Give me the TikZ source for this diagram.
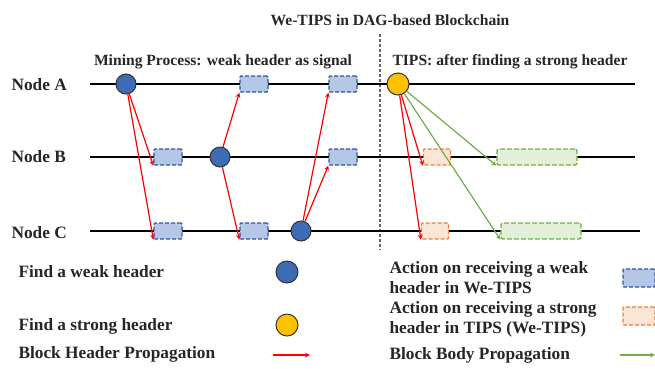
\documentclass[tikz,border=0pt]{standalone}
\usepackage{fontspec}
\setmainfont{Liberation Serif}
\usetikzlibrary{arrows.meta}
\definecolor{weakfill}{HTML}{3D6BB5}
\definecolor{weakbox}{HTML}{B4C7E7}
\definecolor{weakline}{HTML}{2F5597}
\definecolor{strongfill}{HTML}{FFC000}
\definecolor{strongbox}{HTML}{FBE5D6}
\definecolor{strongline}{HTML}{ED7D31}
\definecolor{bodybox}{HTML}{E2F0D9}
\definecolor{bodyline}{HTML}{70AD47}
\tikzset{
  txt/.style={font=\fontsize{17.3}{20}\selectfont\bfseries, text=black!85},
  head/.style={font=\fontsize{15.6}{18}\selectfont\bfseries, text=black!85},
  weakdot/.style={circle, draw=black!80, line width=1pt, fill=weakfill, minimum size=20pt, inner sep=0pt},
  strongdot/.style={circle, draw=black!80, line width=1pt, fill=strongfill, minimum size=22pt, inner sep=0pt},
  weakrx/.style={draw=weakline, fill=weakbox, dash pattern=on 4pt off 2pt, line width=1.3pt, rounded corners=1pt, minimum width=28pt, minimum height=16pt, inner sep=0pt},
  strongrx/.style={draw=strongline, fill=strongbox, dash pattern=on 4pt off 2pt, line width=1.3pt, rounded corners=1pt, minimum width=27pt, minimum height=16pt, inner sep=0pt},
  bodyrx/.style={draw=bodyline, fill=bodybox, dash pattern=on 5pt off 2pt, line width=1.3pt, rounded corners=2pt, minimum width=80pt, minimum height=16pt, inner sep=0pt},
  hdr/.style={->, red, line width=1.2pt},
  body/.style={->, bodyline, line width=1.2pt}
}
\begin{document}
\begin{tikzpicture}[>=stealth, x=1pt, y=-1pt]
\useasboundingbox (0,0) rectangle (655,368);
% titles
\node[head] (title) at (390,20) {We-TIPS in DAG-based Blockchain};
\node[head] (mining) at (223,62) {Mining Process: weak header as signal};
\node[head] (tips) at (510,62) {TIPS: after finding a strong header};
\draw[dash pattern=on 3pt off 2pt, line width=1.5pt, black!60] (380,34) -- (380,250);
% time lines
\node[txt, anchor=west] (na) at (8,85) {Node A};
\node[txt, anchor=west] (nb) at (8,157) {Node B};
\node[txt, anchor=west] (nc) at (8,233) {Node C};
\draw[line width=1.5pt] (90,84) -- (635,84);
\draw[line width=1.5pt] (90,157) -- (635,157);
\draw[line width=1.5pt] (90,231) -- (640,231);
% weak headers
\node[weakrx] (ra1) at (254,84) {};
\node[weakrx] (ra2) at (343,84) {};
\node[weakrx] (rb1) at (168,157) {};
\node[weakrx] (rb2) at (343,157) {};
\node[weakrx] (rc1) at (168,231) {};
\node[weakrx] (rc2) at (254,231) {};
\node[weakdot] (ca) at (126,84) {};
\node[weakdot] (cb) at (220,157) {};
\node[weakdot] (cc) at (301,231) {};
\draw[hdr] (ca) -- (rb1.south west);
\draw[hdr] (ca) -- (rc1.south west);
\draw[hdr] (cb) -- (ra1.south west);
\draw[hdr] (cb) -- (rc2.south west);
\draw[hdr] (cc) -- (ra2.south west);
\draw[hdr] (cc) -- (rb2.south west);
% strong header
\node[strongrx] (sb) at (437,157) {};
\node[strongrx] (sc) at (435,231) {};
\node[bodyrx] (gb) at (537,157) {};
\node[bodyrx] (gc) at (541,231) {};
\node[strongdot] (cs) at (398,84) {};
\draw[hdr] (cs) -- (sb.south west);
\draw[hdr] (cs) -- (sc.south west);
\draw[body] (cs) -- (gb.south west);
\draw[body] (cs) -- (gc.south west);
% legend
\node[txt, anchor=west] (l1) at (15,272) {Find a weak header};
\node[weakdot, minimum size=22pt] (k1) at (287,272) {};
\node[txt, anchor=west] (l2) at (15,326) {Find a strong header};
\node[strongdot] (k2) at (287,325) {};
\node[txt, anchor=west] (l3) at (15,354) {Block Header Propagation};
\coordinate (k3a) at (273,355);
\coordinate (k3b) at (310,355);
\draw[hdr] (k3a) -- (k3b);
\node[txt, anchor=west, align=left] (l4) at (386,278) {Action on receiving a weak\\header in We-TIPS};
\node[weakrx, minimum width=32pt, minimum height=18pt] (k4) at (639,278) {};
\node[txt, anchor=west, align=left] (l5) at (386,319) {Action on receiving a strong\\header in TIPS (We-TIPS)};
\node[strongrx, minimum width=32pt, minimum height=18pt] (k5) at (639,316) {};
\node[txt, anchor=west] (l6) at (386,355) {Block Body Propagation};
\coordinate (k6a) at (620,355);
\coordinate (k6b) at (655,355);
\draw[body] (k6a) -- (k6b);
\end{tikzpicture}
\end{document}
